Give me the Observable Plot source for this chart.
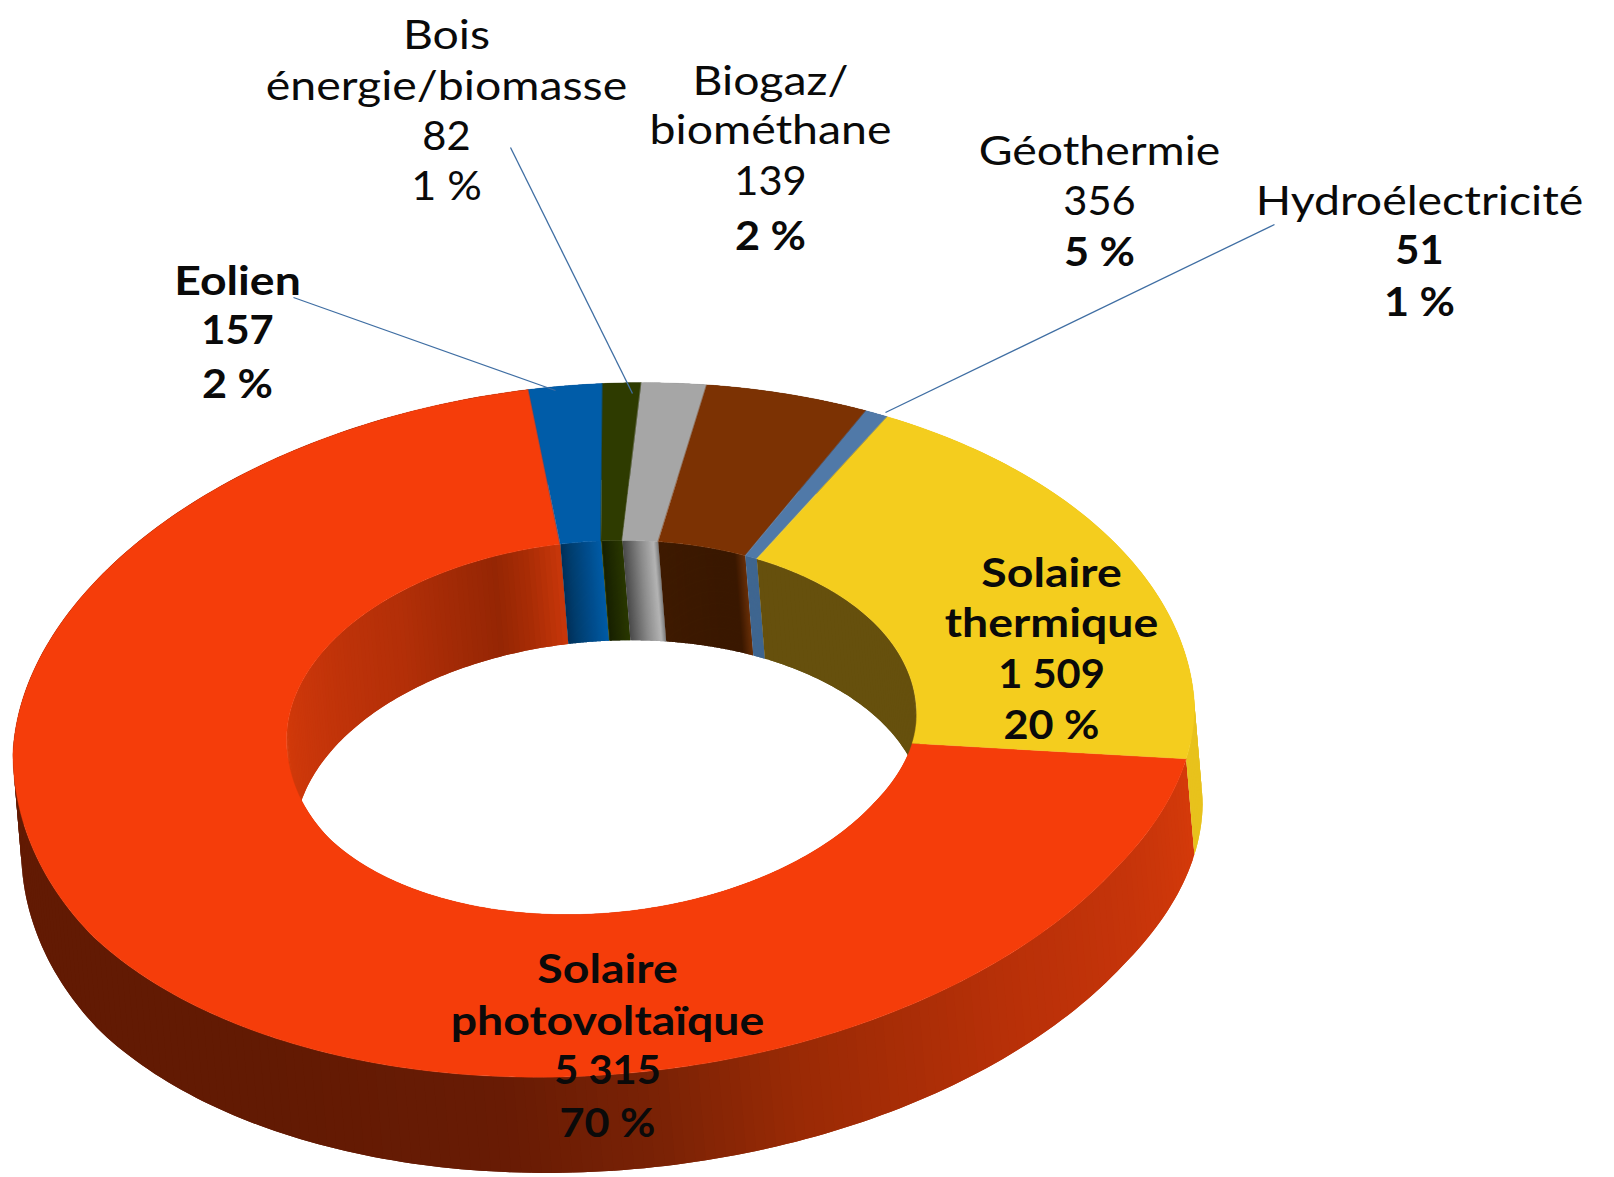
<!DOCTYPE html>
<html lang="fr">
<head>
<meta charset="utf-8">
<title>Énergies renouvelables</title>
<script src="https://cdn.jsdelivr.net/npm/d3@7"></script>
<script src="https://cdn.jsdelivr.net/npm/@observablehq/plot@0.6"></script>
<style>
html,body{margin:0;padding:0;background:#fff}
svg{display:block}
</style>
</head>
<body>
<div id="chart"></div>
<script>
// ---- Data ----
const categories = ["Solaire photovoltaïque","Eolien","Bois énergie/biomasse","Biogaz/biométhane","Géothermie","Hydroélectricité","Solaire thermique"];
const values     = [5315,157,82,139,356,51,1509];
const valueLabels= ["5 315","157","82","139","356","51","1 509"];
const percents   = ["70 %","2 %","1 %","2 %","5 %","1 %","20 %"];
const nameLines  = [["Solaire","photovoltaïque"],["Eolien"],["Bois","énergie/biomasse"],["Biogaz/","biométhane"],["Géothermie"],["Hydroélectricité"],["Solaire","thermique"]];

// ---- Styles ----
const topColors = ["#f53d0a","#005ca8","#2e3b00","#a6a6a6","#7c3203","#5079a8","#f4cd1e"];
const sideStops = [
  {d:[101,120,138,161,175,190,215,360],c:["#d53a0a","#c5340a","#b83008","#9a2a05","#7a2205","#681b04","#621a03","#621a03"]},
  {d:[0,360],c:["#004a88","#004a88"]},{d:[0,360],c:["#222c00","#222c00"]},{d:[0,360],c:["#888","#888"]},
  {d:[0,360],c:["#5a2402","#5a2402"]},{d:[0,360],c:["#3c5f88","#3c5f88"]},
  {d:[29,70,90,101],c:["#d0a81f","#d0a81f","#c9a61f","#e8c21c"]}
];
const wallStops = [
  {d:[101,250,265,290,320,340,346,352.5],c:["#d63c0a","#d63c0a","#d63c0a","#c9360a","#b32f08","#952604","#a82c05","#c9370a"]},
  {d:[352.5,354,360],c:["#00305a","#013c6c","#005ca8"]},
  {d:[0,3.8],c:["#172000","#2a3800"]},
  {d:[3.8,7,9.5,10.4],c:["#4a4a4a","#8a8a8a","#b4b4b4","#777"]},
  {d:[10.4,22,25,27.2],c:["#3e1a00","#3a1800","#3a1800","#6a2f08"]},
  {d:[27.2,29.6],c:["#2c4a70","#3f6690"]},
  {d:[29.6,101],c:["#66500d","#66500d"]}
];

// ---- Layout ----
const W = 1614, H = 1177;
const startDeg = 101;
const shearBack = -0.04, shearFront = -0.065;
const warpDeg = 1.5;
const outer = {cx:603.2, cy:728.8, a:590.8, b:345.8, dx:8.2, dy:95.7, persp:0.03};
const inner = {cx:601.1, cy:726.7, a:315,   b:186.3, dx:8,   dy:99.8, persp:0};
const labelLayout = [
  {x:607,  y:[970,1022,1071,1124], bold:[1,1,1,1]},
  {x:237,  y:[282,331,385],        bold:[1,1,1]},
  {x:446,  y:[36,87,137,187],      bold:[0,0,0,0]},
  {x:770,  y:[82,131,182,237],     bold:[0,0,0,1]},
  {x:1099, y:[152,202,253],        bold:[0,0,1]},
  {x:1419, y:[202,251,303],        bold:[0,1,1]},
  {x:1051, y:[574,624,675,726],    bold:[1,1,1,1]}
];
const leaders = [
  {x1:293,y1:297,x2:555,y2:390},
  {x1:510,y1:147,x2:632,y2:393},
  {x1:1274,y1:224,x2:885,y2:412}
];

// ---- Geometry derived from the values ----
const pie = d3.pie().sort(null).startAngle(startDeg*Math.PI/180).endAngle((startDeg+360)*Math.PI/180);
const arcs = pie(values);
const pt = (e,deg,down) => {
  const s0 = Math.sin(deg*Math.PI/180);
  const t = (deg - warpDeg*Math.pow(Math.max(s0,0),4))*Math.PI/180, s = Math.sin(t), c = Math.cos(t);
  const k = shearBack + (shearFront-shearBack)*Math.min(1,2*Math.max(-c,0));
  const x = e.a*s*(1-e.persp*Math.max(c,0)), y = -e.b*c + k*e.a*s;
  return {x: e.cx + x + (down?e.dx:0), y: e.cy + y + (down?e.dy:0)};
};
const sweep = (a0,a1,step=0.5) => {
  const n = Math.max(2,Math.ceil((a1-a0)/step));
  return d3.range(n+1).map(i => a0+(a1-a0)*i/n);
};
const slices = arcs.map((a,i)=>({i, a0:a.startAngle*180/Math.PI, a1:a.endAngle*180/Math.PI}));

// top surface
const topPts = slices.flatMap(s => {
  const th = sweep(s.a0,s.a1);
  return [...th.map(t=>pt(outer,t)),...th.slice().reverse().map(t=>pt(inner,t))]
    .map(p=>({...p,z:"t"+s.i,c:topColors[s.i]}));
});
// shaded bands (outer side, inner wall): each piece runs over the next one so no seam shows
const band = (e,stops,prefix) => slices.flatMap(s => {
  const col = d3.scaleLinear().domain(stops[s.i].d).range(stops[s.i].c).interpolate(d3.interpolateRgb).clamp(true);
  const th = sweep(s.a0,s.a1,s.a1-s.a0>20?1:0.2);
  return th.slice(0,-1).flatMap((t,j)=>{
    const end = th[Math.min(j+2,th.length-1)];
    const mid = (t+th[j+1])/2;
    const m = mid>=360 && stops[s.i].d[0]<20 ? mid-360 : mid;
    const c = col(m);
    const z = prefix+s.i+"_"+j;
    return [pt(e,t),pt(e,(t+end)/2),pt(e,end),pt(e,end,true),pt(e,(t+end)/2,true),pt(e,t,true)].map(p=>({...p,z,c}));
  });
});
const sidePts = band(outer,sideStops,"s");
const wallPts = band(inner,wallStops,"w");

// labels
const labelRows = categories.flatMap((_,i)=>{
  const lines = [...nameLines[i],valueLabels[i],percents[i]];
  return lines.map((text,j)=>({text,x:labelLayout[i].x,y:labelLayout[i].y[j],bold:!!labelLayout[i].bold[j]}));
});

const poly = (data,sw) => Plot.line(data,{x:"x",y:"y",z:"z",fill:"c",stroke:sw?"c":"none",strokeWidth:sw,curve:"linear-closed"});
const textOpts = {x:"x",y:"y",text:"text",fontSize:40,fill:"#0a0a0a",lineAnchor:"middle",textAnchor:"middle",fontFamily:"Lato, 'Open Sans', sans-serif"};

const plot = Plot.plot({
  width:W,height:H,margin:0,
  x:{domain:[0,W],range:[0,W],axis:null},
  y:{domain:[0,H],range:[0,H],axis:null},
  color:{type:"identity"},
  marks:[
    poly(sidePts,0),
    poly(wallPts,0),
    poly(topPts,0.4),
    Plot.link(leaders,{x1:"x1",y1:"y1",x2:"x2",y2:"y2",stroke:"#3f6ea3",strokeWidth:1.3}),
    Plot.text(labelRows.filter(d=>!d.bold),{...textOpts}),
    Plot.text(labelRows.filter(d=>d.bold),{...textOpts,fontWeight:"bold"})
  ]
});
document.getElementById("chart").appendChild(plot);
// the reference's lettering is wider than any installed face: widen the real text
plot.querySelectorAll("text").forEach(t=>{
  const s = t.textContent;
  const stretch = /%/.test(s) ? 1.08 : /^[\d ]+$/.test(s) ? 1.04 : 1.16;
  t.setAttribute("textLength",(t.getComputedTextLength()*stretch).toFixed(1));
  t.setAttribute("lengthAdjust","spacingAndGlyphs");
});
</script>
</body>
</html>
